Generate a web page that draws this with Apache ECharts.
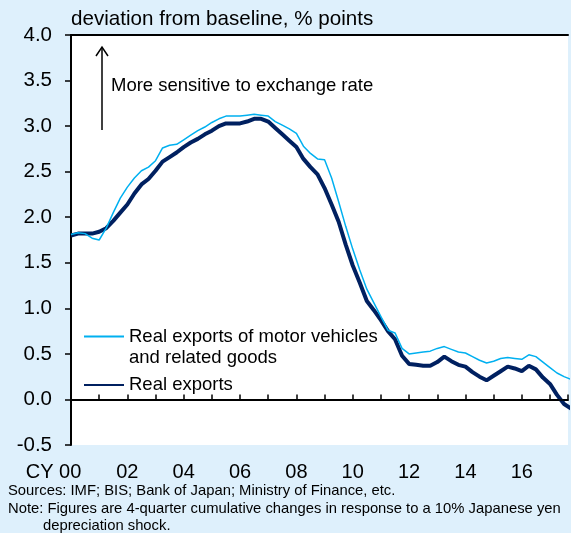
<!DOCTYPE html>
<html>
<head>
<meta charset="utf-8">
<script src="https://cdn.jsdelivr.net/npm/echarts@6/dist/echarts.min.js"></script>
<style>
html, body { margin: 0; padding: 0; background: #def0fc; }
#main { width: 571px; height: 533px; }
</style>
</head>
<body>
<div id="main"></div>
<script>
// quarterly, starting CY2000 Q1
var startYear = 2000;
var motorName = 'Real exports of motor vehicles\nand related goods';
var exportsName = 'Real exports';

var motorVehicles = [
	1.81, 1.83, 1.82, 1.77, 1.75, 1.88, 2.05, 2.21, 2.33, 2.43,
	2.51, 2.55, 2.62, 2.76, 2.79, 2.80, 2.85, 2.90, 2.95, 2.99,
	3.04, 3.08, 3.11, 3.11, 3.11, 3.12, 3.13, 3.12, 3.11, 3.05,
	3.01, 2.97, 2.92, 2.78, 2.70, 2.64, 2.63, 2.43, 2.17, 1.90,
	1.65, 1.42, 1.21, 1.06, 0.91, 0.76, 0.73, 0.56, 0.50, 0.51,
	0.52, 0.53, 0.56, 0.58, 0.55, 0.52, 0.51, 0.47, 0.43, 0.40,
	0.42, 0.45, 0.46, 0.45, 0.44, 0.49, 0.47, 0.41, 0.35, 0.29,
	0.25, 0.22
];
var realExports = [
	1.80, 1.82, 1.82, 1.82, 1.84, 1.88, 1.96, 2.05, 2.14, 2.26,
	2.36, 2.42, 2.51, 2.61, 2.66, 2.71, 2.77, 2.82, 2.86, 2.91,
	2.95, 3.00, 3.03, 3.03, 3.03, 3.05, 3.08, 3.08, 3.05, 2.98,
	2.91, 2.84, 2.77, 2.64, 2.55, 2.47, 2.32, 2.14, 1.95, 1.70,
	1.47, 1.28, 1.08, 0.98, 0.87, 0.75, 0.66, 0.48, 0.39, 0.38,
	0.37, 0.37, 0.41, 0.47, 0.42, 0.38, 0.36, 0.30, 0.25, 0.21,
	0.26, 0.31, 0.36, 0.34, 0.31, 0.37, 0.33, 0.24, 0.17, 0.05,
	-0.05, -0.10
];

var quarters = [];
for (var i = 0; i < realExports.length; i++) quarters.push(startYear + i / 4);

function toPairs(vals) {
	return vals.map(function (v, i) { return [quarters[i], v]; });
}

var FONT = '"Liberation Sans", Arial, sans-serif';
var colorMotor = '#00b0f0';
var colorExports = '#002060';

var chart = echarts.init(document.getElementById('main'));
chart.setOption({
	backgroundColor: '#def0fc',
	animation: false,
	textStyle: { fontFamily: FONT },
	grid: {
		left: 71, right: 0, top: 35, bottom: 88,
		show: true, backgroundColor: '#ffffff', borderWidth: 0
	},
	legend: {
		orient: 'vertical',
		left: 78, top: 300,
		itemWidth: 40, itemHeight: 14, itemGap: 6.5,
		itemStyle: { opacity: 0 },
		textStyle: { fontFamily: FONT, fontSize: 18.5, color: '#000', lineHeight: 21 },
		// blank first line keeps the icon level with the first text line
		formatter: function (name) { return name === motorName ? '\n' + name : name; },
		data: [motorName, exportsName]
	},
	xAxis: [
		{
			type: 'value',
			min: 2000, max: 2017.64, interval: 1,
			axisLine: { lineStyle: { color: '#000', width: 2 } },
			axisTick: { inside: true, length: 5, lineStyle: { color: '#000', width: 1.5 } },
			splitLine: { show: false },
			axisLabel: {
				margin: 17,
				color: '#000',
				fontSize: 20,
				fontFamily: FONT,
				formatter: function (v) {
					if (!Number.isInteger(v) || v % 2 !== 0) return '';
					if (v === startYear) return '{cy|CY 00}';
					return String(v).slice(2);
				},
				rich: {
					cy: { fontSize: 20, fontFamily: FONT, color: '#000', padding: [0, 35, 0, 0] }
				}
			}
		},
		{
			type: 'value',
			position: 'top',
			min: 2000, max: 2017.64,
			axisLine: { show: true, lineStyle: { color: '#000', width: 2 } },
			axisTick: { show: false },
			axisLabel: { show: false },
			splitLine: { show: false }
		}
	],
	yAxis: {
		type: 'value',
		min: -0.5, max: 4, interval: 0.5,
		name: 'deviation from baseline, % points',
		nameLocation: 'end',
		nameGap: 5,
		nameTextStyle: { align: 'left', fontSize: 20.6, color: '#000', fontFamily: FONT },
		axisLine: { show: true, lineStyle: { color: '#000', width: 2 } },
		axisTick: { show: true, length: 6, lineStyle: { color: '#000', width: 1.5 } },
		splitLine: { show: false },
		axisLabel: {
			margin: 19, color: '#000', fontSize: 20.5, fontFamily: FONT,
			formatter: function (v) { return v.toFixed(1); }
		}
	},
	series: [
		{
			name: exportsName,
			type: 'line',
			symbol: 'none',
			lineStyle: { color: colorExports, width: 4 },
			itemStyle: { color: colorExports },
			data: toPairs(realExports),
			markLine: {
				silent: true,
				symbol: 'none',
				label: { show: false },
				lineStyle: { color: '#000', width: 1.5, type: 'solid' },
				data: [{ yAxis: 0 }]
			}
		},
		{
			name: motorName,
			type: 'line',
			symbol: 'none',
			lineStyle: { color: colorMotor, width: 1.5 },
			itemStyle: { color: colorMotor },
			data: toPairs(motorVehicles)
		}
	],
	graphic: [
		// arrow annotation
		{ type: 'line', shape: { x1: 102, y1: 130, x2: 102, y2: 47 }, style: { stroke: '#000', lineWidth: 1.5 } },
		{ type: 'polyline', shape: { points: [[96, 56], [102, 47], [108, 56]] }, style: { stroke: '#000', lineWidth: 1.5, fill: null } },
		{ type: 'text', left: 111, top: 76, style: { text: 'More sensitive to exchange rate', font: '18.5px ' + FONT, fill: '#000' } },
		// notes
		{ type: 'text', left: 8, top: 483.5, style: { text: 'Sources: IMF; BIS; Bank of Japan; Ministry of Finance, etc.', font: '14.8px ' + FONT, fill: '#000' } },
		{ type: 'text', left: 8, top: 501.5, style: { text: 'Note: Figures are 4-quarter cumulative changes in response to a 10% Japanese yen', font: '14.8px ' + FONT, fill: '#000' } },
		{ type: 'text', left: 43, top: 518.5, style: { text: 'depreciation shock.', font: '14.8px ' + FONT, fill: '#000' } }
	]
});
</script>
</body>
</html>
